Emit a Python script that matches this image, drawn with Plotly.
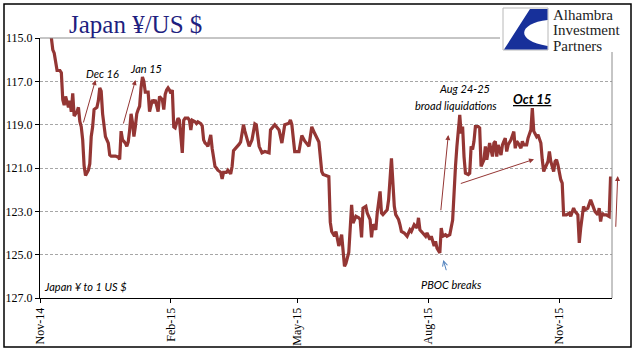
import plotly.graph_objects as go

# ---------------- data ----------------
dates = [
    "2014-11-03", "2014-11-06", "2014-11-09", "2014-11-10", "2014-11-11", "2014-11-13", "2014-11-15",
    "2014-11-16", "2014-11-17", "2014-11-18", "2014-11-19", "2014-11-21", "2014-11-22", "2014-11-23",
    "2014-11-24", "2014-11-25", "2014-11-27", "2014-11-28", "2014-11-29", "2014-11-30", "2014-12-01",
    "2014-12-02", "2014-12-03", "2014-12-05", "2014-12-06", "2014-12-07", "2014-12-08", "2014-12-09",
    "2014-12-11", "2014-12-12", "2014-12-13", "2014-12-14", "2014-12-15", "2014-12-17", "2014-12-18",
    "2014-12-19", "2014-12-20", "2014-12-21", "2014-12-24", "2014-12-26", "2014-12-27", "2014-12-28",
    "2014-12-29", "2014-12-31", "2015-01-01", "2015-01-02", "2015-01-03", "2015-01-04", "2015-01-05",
    "2015-01-06", "2015-01-07", "2015-01-08", "2015-01-09", "2015-01-10", "2015-01-11", "2015-01-12",
    "2015-01-13", "2015-01-14", "2015-01-16", "2015-01-17", "2015-01-19", "2015-01-20", "2015-01-21",
    "2015-01-22", "2015-01-23", "2015-01-24", "2015-01-26", "2015-01-27", "2015-01-28", "2015-01-29",
    "2015-01-30", "2015-01-31", "2015-02-01", "2015-02-02", "2015-02-03", "2015-02-04", "2015-02-05",
    "2015-02-06", "2015-02-07", "2015-02-09", "2015-02-10", "2015-02-11", "2015-02-13", "2015-02-14",
    "2015-02-15", "2015-02-16", "2015-02-18", "2015-02-19", "2015-02-20", "2015-02-22", "2015-02-23",
    "2015-02-24", "2015-02-25", "2015-02-26", "2015-02-27", "2015-03-01", "2015-03-02", "2015-03-03",
    "2015-03-04", "2015-03-05", "2015-03-06", "2015-03-08", "2015-03-09", "2015-03-10", "2015-03-12",
    "2015-03-13", "2015-03-15", "2015-03-16", "2015-03-17", "2015-03-21", "2015-03-22", "2015-03-24",
    "2015-03-25", "2015-03-28", "2015-03-30", "2015-04-01", "2015-04-02", "2015-04-04", "2015-04-06",
    "2015-04-08", "2015-04-11", "2015-04-12", "2015-04-15", "2015-04-18", "2015-04-20", "2015-04-22",
    "2015-04-25", "2015-04-26", "2015-04-27", "2015-04-29", "2015-05-02", "2015-05-04", "2015-05-06",
    "2015-05-09", "2015-05-11", "2015-05-13", "2015-05-16", "2015-05-18", "2015-05-19", "2015-05-21",
    "2015-05-23", "2015-05-24", "2015-05-25", "2015-05-27", "2015-05-28", "2015-05-30", "2015-06-01",
    "2015-06-03", "2015-06-04", "2015-06-06", "2015-06-08", "2015-06-09", "2015-06-11", "2015-06-13",
    "2015-06-14", "2015-06-15", "2015-06-16", "2015-06-18", "2015-06-19", "2015-06-21", "2015-06-22",
    "2015-06-23", "2015-06-25", "2015-06-26", "2015-06-28", "2015-06-29", "2015-06-30", "2015-07-03",
    "2015-07-04", "2015-07-06", "2015-07-08", "2015-07-09", "2015-07-11", "2015-07-12", "2015-07-13",
    "2015-07-15", "2015-07-16", "2015-07-17", "2015-07-19", "2015-07-20", "2015-07-22", "2015-07-24",
    "2015-07-25", "2015-07-26", "2015-07-28", "2015-07-30", "2015-07-31", "2015-08-02", "2015-08-03",
    "2015-08-05", "2015-08-06", "2015-08-07", "2015-08-09", "2015-08-10", "2015-08-11", "2015-08-13",
    "2015-08-14", "2015-08-16", "2015-08-18", "2015-08-19", "2015-08-20", "2015-08-21", "2015-08-22",
    "2015-08-23", "2015-08-24", "2015-08-25", "2015-08-26", "2015-08-27", "2015-08-29", "2015-08-30",
    "2015-08-31", "2015-09-01", "2015-09-02", "2015-09-03", "2015-09-05", "2015-09-06", "2015-09-07",
    "2015-09-09", "2015-09-10", "2015-09-11", "2015-09-13", "2015-09-15", "2015-09-16", "2015-09-17",
    "2015-09-18", "2015-09-19", "2015-09-21", "2015-09-22", "2015-09-23", "2015-09-24", "2015-09-25",
    "2015-09-26", "2015-09-28", "2015-09-29", "2015-09-30", "2015-10-01", "2015-10-02", "2015-10-03",
    "2015-10-05", "2015-10-06", "2015-10-07", "2015-10-09", "2015-10-10", "2015-10-12", "2015-10-13",
    "2015-10-14", "2015-10-16", "2015-10-17", "2015-10-19", "2015-10-20", "2015-10-21", "2015-10-22",
    "2015-10-24", "2015-10-25", "2015-10-26", "2015-10-28", "2015-10-29", "2015-10-30", "2015-10-31",
    "2015-11-02", "2015-11-03", "2015-11-04", "2015-11-06", "2015-11-08", "2015-11-09", "2015-11-11",
    "2015-11-12", "2015-11-14", "2015-11-15", "2015-11-16", "2015-11-18", "2015-11-19", "2015-11-21",
    "2015-11-23", "2015-11-25", "2015-11-26", "2015-11-28", "2015-11-29", "2015-11-30", "2015-12-01",
    "2015-12-02", "2015-12-04", "2015-12-06", "2015-12-07",
]

yen_per_usd = [
    113.6, 114.5, 115.0, 115.55, 115.7, 116.5, 116.5,
    116.6, 117.85, 118.1, 117.7, 118.2, 117.9, 118.4,
    117.55, 118.6, 118.4, 118.2, 118.85, 119.1, 119.7,
    120.9, 121.35, 121.1, 120.8, 119.55, 119.1, 118.3,
    118.2, 117.9, 117.3, 117.45, 118.5, 119.55, 119.7,
    119.85, 120.4, 120.45, 120.45, 120.5, 120.6, 119.3,
    119.7, 119.85, 120.0, 119.8, 119.25, 118.5, 118.9,
    119.55, 119.1, 118.5, 118.3, 118.15, 117.3, 116.8,
    117.0, 117.5, 117.5, 118.4, 117.85, 118.0, 117.85,
    118.15, 118.4, 117.7, 117.85, 118.3, 117.6, 117.4,
    117.3, 117.4, 117.55, 117.4, 119.1, 119.15, 118.85,
    118.7, 118.8, 120.3, 118.8, 118.7, 118.7, 118.8,
    119.25, 118.8, 118.87, 118.95, 118.87, 118.95, 119.05,
    119.7, 119.85, 119.9, 120.0, 119.47, 120.1, 120.45,
    120.93, 121.0, 121.1, 121.2, 121.5, 121.2, 121.2,
    121.1, 121.27, 120.93, 120.2, 119.9, 119.8, 119.0,
    119.3, 120.0, 119.7, 118.96, 119.0, 120.0, 120.3,
    120.24, 120.3, 119.24, 119.0, 119.24, 119.85, 119.0,
    118.93, 118.78, 119.0, 120.24, 120.24, 119.5, 119.75,
    120.0, 119.1, 119.4, 119.8, 121.16, 121.3, 121.35,
    121.4, 123.5, 123.93, 124.15, 123.93, 124.6, 124.08,
    125.54, 125.4, 124.9, 122.7, 123.54, 123.23, 123.3,
    123.38, 124.2, 122.85, 122.77, 123.08, 123.38, 124.2,
    123.6, 123.85, 123.08, 122.08, 123.08, 123.15, 122.93,
    122.47, 120.55, 122.77, 123.15, 123.38, 123.62, 123.93,
    124.0, 124.08, 124.15, 123.85, 123.93, 123.62, 123.77,
    123.3, 123.85, 124.0, 124.15, 124.0, 124.3, 124.15,
    124.6, 124.38, 124.7, 124.92, 123.77, 124.15, 124.08,
    124.15, 124.08, 123.4, 121.85, 120.93, 120.0, 119.09,
    118.55, 119.4, 119.09, 120.47, 121.24, 121.3, 121.24,
    120.0, 120.15, 119.77, 119.09, 119.09, 119.15, 120.93,
    120.62, 120.0, 120.62, 119.85, 120.47, 119.85, 119.77,
    120.47, 119.93, 120.4, 119.93, 119.77, 119.62, 120.24,
    119.93, 119.7, 119.55, 119.32, 120.09, 119.77, 119.85,
    120.09, 119.77, 119.93, 119.93, 119.62, 119.24, 118.24,
    119.3, 119.55, 119.47, 119.85, 120.62, 121.16, 121.0,
    120.7, 120.24, 120.7, 121.16, 120.7, 120.62, 120.85,
    121.54, 121.7, 123.16, 123.16, 123.08, 123.23, 122.85,
    123.0, 123.16, 124.46, 123.77, 122.77, 122.93, 122.85,
    122.47, 122.77, 123.0, 123.16, 122.85, 123.47, 123.08,
    123.16, 123.16, 123.24, 121.39,
]

y_ticks = [115, 117, 119, 121, 123, 125, 127]
x_tick_dates = ["2014-11-01", "2015-02-01", "2015-05-01", "2015-08-01", "2015-11-01"]
x_tick_labels = ["Nov-14", "Feb-15", "May-15", "Aug-15", "Nov-15"]

# ---------------- styling ----------------
W, H = 641, 361
ML, MR, MT, MB = 40, 29, 38, 63
PW, PH = W - ML - MR, H - MT - MB

def px(x):
    return (x - ML) / PW

def py(y):
    return (H - MB - y) / PH

LINE_RED = "#943634"
NAVY = "#1f1f80"
LOGO_BLUE = "#17309a"
SERIF = "Liberation Serif"
SANS = "Lato"

fig = go.Figure()
fig.add_trace(go.Scatter(
    x=dates, y=yen_per_usd, mode="lines",
    line=dict(color=LINE_RED, width=3.2),
    hoverinfo="skip", showlegend=False,
))

fig.update_layout(
    width=W, height=H,
    margin=dict(l=ML, r=MR, t=MT, b=MB, autoexpand=False),
    paper_bgcolor="white", plot_bgcolor="white",
    showlegend=False,
    font=dict(family=SERIF),
    xaxis=dict(
        type="date", range=["2014-11-01", "2015-12-08"], automargin=False,
        tickmode="array", tickvals=x_tick_dates, ticktext=x_tick_labels,
        tickangle=-90, tickfont=dict(family=SERIF, size=12, color="black"),
        ticks="outside", ticklen=4, tickcolor="black",
        showline=True, linecolor="black", linewidth=1,
        showgrid=False, zeroline=False,
    ),
    yaxis=dict(
        range=[127, 115], automargin=False, tickmode="array", tickvals=y_ticks,
        tickformat=".1f", tickfont=dict(family=SERIF, size=12, color="black"),
        ticks="outside", ticklen=4, tickcolor="black",
        showline=True, linecolor="black", linewidth=1,
        showgrid=True, gridcolor="#a6a6a6", gridwidth=1, griddash="3px,2px",
        zeroline=False,
    ),
)

shapes = []
# cover the dashed top gridline where the logo sits
shapes.append(dict(type="rect", xref="paper", yref="paper", layer="above",
                   x0=px(498), x1=px(616), y0=py(51), y1=py(30),
                   fillcolor="white", line=dict(width=0)))
# solid top border (115 line) and grey right border
shapes.append(dict(type="line", xref="paper", yref="paper", layer="above",
                   x0=0, x1=px(500), y0=1, y1=1, line=dict(color="#8c8c8c", width=1)))
shapes.append(dict(type="line", xref="paper", yref="paper", layer="above",
                   x0=1, x1=1, y0=0, y1=py(52), line=dict(color="#8c8c8c", width=1)))
# outer frame
shapes.append(dict(type="rect", xref="paper", yref="paper", layer="above",
                   x0=px(4), x1=px(631), y0=py(347), y1=py(4),
                   line=dict(color="black", width=1.5)))
# logo square
shapes.append(dict(type="rect", xref="paper", yref="paper", layer="above",
                   x0=px(503), x1=px(548), y0=py(50), y1=py(8),
                   fillcolor="white", line=dict(color="#b8b8b8", width=1)))

def P(x, y):
    return f"{px(x):.5f},{py(y):.5f}"

logo_path = (f"M{P(530,9)} L{P(547.5,9)} L{P(547.5,20)} "
             f"C{P(520,23)} {P(513,40)} {P(547.5,46)} "
             f"L{P(547.5,49.5)} L{P(504,49.5)} Z")
shapes.append(dict(type="path", xref="paper", yref="paper", layer="above",
                   path=logo_path, fillcolor=LOGO_BLUE, line=dict(width=0)))
fig.update_layout(shapes=shapes)

ann = []

def text(t, x, y, size=12, color="black", family=SANS, xanchor="center"):
    ann.append(dict(text=t, x=px(x), y=py(y), xref="paper", yref="paper",
                    xanchor=xanchor, yanchor="middle", showarrow=False,
                    font=dict(family=family, size=size, color=color)))

def arrow(hx, hy, tx, ty, color=LINE_RED, head=2, width=1):
    ann.append(dict(text="", x=px(hx), y=py(hy), xref="paper", yref="paper",
                    ax=tx - hx, ay=ty - hy, axref="pixel", ayref="pixel",
                    showarrow=True, arrowhead=head, arrowsize=1, arrowwidth=width,
                    arrowcolor=color, standoff=0, startstandoff=0))

# title
text("Japan ¥/US $", 135.5, 25, size=25, color=NAVY, family=SERIF)
# logo text
text("Alhambra", 551, 14.5, size=15, color="#222222", family=SERIF, xanchor="left")
text("Investment", 551, 30, size=15, color="#222222", family=SERIF, xanchor="left")
text("Partners", 551, 45.5, size=15, color="#222222", family=SERIF, xanchor="left")

# annotations
text("<i>Dec 16</i>", 102, 74, size=11)
text("<i>Jan 15</i>", 145.5, 68.5, size=11)
text("<i>Aug 24-25</i>", 464, 88, size=11)
text("<i>broad liquidations</i>", 456, 106, size=11)
text("<b><i><u>Oct 15</u></i></b>", 532, 99, size=13)
text("<i>PBOC breaks</i>", 451, 284, size=11)
text("<i>Japan ¥ to 1 US $</i>", 42, 286.5, size=11, xanchor="left")

arrow(95.5, 80, 83, 124)
arrow(135.5, 80, 123, 125)
arrow(448.3, 135, 440.7, 211.7)
arrow(534, 159.3, 459.3, 184)
arrow(617.7, 176, 615.7, 228.3)
arrow(443.3, 260, 446.7, 271.7, color="#4f81bd", head=5, width=1)

fig.update_layout(annotations=ann)

# remove the browser's default page margin so the figure sits at the window's top-left corner
fig.write_html(
    "out.html",
    config={"displayModeBar": False, "staticPlot": True},
    post_script="document.body.style.margin='0';document.body.style.overflow='hidden';",
)
